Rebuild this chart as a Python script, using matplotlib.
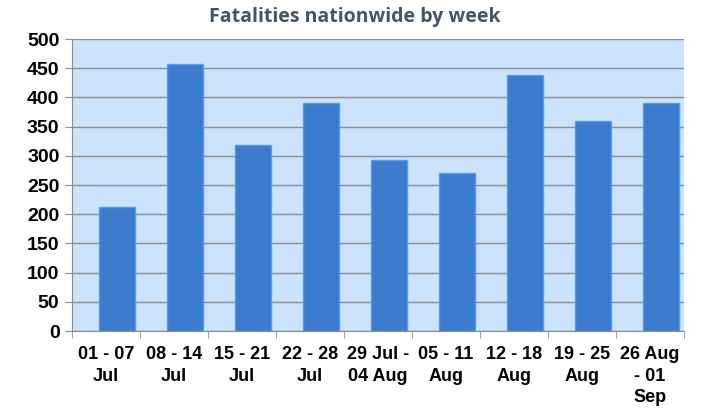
import matplotlib.pyplot as plt
import numpy as np

weeks = ["01 - 07\nJul", "08 - 14\nJul", "15 - 21\nJul", "22 - 28\nJul",
         "29 Jul -\n04 Aug", "05 - 11\nAug", "12 - 18\nAug", "19 - 25\nAug",
         "26 Aug\n- 01\nSep"]
fatalities = [212, 458, 318, 390, 293, 271, 438, 359, 390]

fig = plt.figure(figsize=(7.01, 4.17), dpi=100)
ax = fig.add_axes([72 / 701, 1 - 331 / 417, (684 - 72) / 701, (331 - 39) / 417])
ax.set_facecolor("#cce4fb")

x = np.arange(len(weeks))
# bars sit a little right of the category centre, as in the original
ax.bar(x + 0.16, fatalities, width=0.53, color="#3a7bd0", edgecolor="#5b9be6",
       linewidth=1, zorder=3)

ax.set_xlim(-0.5, len(weeks) - 0.5)
ax.set_ylim(0, 500)
ax.set_yticks(np.arange(0, 501, 50))
ax.yaxis.grid(True, color="#8c8c8c", linewidth=1, zorder=1)
ax.set_axisbelow(True)

ax.set_xticks(x)
ax.set_xticklabels(weeks, fontsize=13, fontweight="bold", family="Liberation Sans",
                   linespacing=1.35)
ax.set_xticks(np.arange(-0.5, len(weeks), 1), minor=True)
ax.tick_params(axis="x", which="major", length=0, pad=11)
ax.tick_params(axis="x", which="minor", length=5, color="#8c8c8c")
ax.tick_params(axis="y", length=5, color="#8c8c8c", pad=4)
for lab in ax.get_yticklabels():
    lab.set_fontsize(14)
    lab.set_fontweight("bold")
    lab.set_family("Liberation Sans")

for s in ["top", "right"]:
    ax.spines[s].set_visible(False)
for s in ["left", "bottom"]:
    ax.spines[s].set_color("#8c8c8c")

fig.text(355 / 701, 1 - 17 / 417, "Fatalities nationwide by week", ha="center",
         va="center", fontsize=14, fontweight="bold", family="Open Sans",
         color="#44546a")

fig.savefig("out.png", dpi=100)
